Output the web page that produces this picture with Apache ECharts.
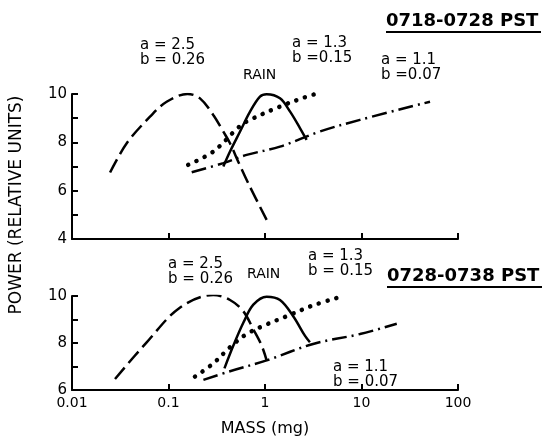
<!DOCTYPE html>
<html>
<head>
<meta charset="utf-8">
<script src="https://cdn.jsdelivr.net/npm/echarts@6/dist/echarts.min.js"></script>
<style>
  html, body { margin: 0; padding: 0; background: #fff; }
  #chart { width: 552px; height: 438px; }
</style>
</head>
<body>
<div id="chart"></div>
<script>
// mass (mg) vs power (relative units)
// top panel: 0718-0728 PST
const topDashMass = [0.0248, 0.0369, 0.0643, 0.0957, 0.157, 0.212, 0.291, 0.37, 0.434, 0.528, 0.67, 1.04];
const topDashPower = [6.75, 7.96, 9.06, 9.68, 10.0, 9.82, 9.13, 8.44, 7.96, 7.2, 6.31, 4.79];
const topRainMass = [0.37, 0.434, 0.55, 0.7, 0.887, 1.04, 1.43, 1.82, 2.31, 2.7];
const topRainPower = [7.0, 7.62, 8.44, 9.27, 9.89, 9.99, 9.82, 9.27, 8.58, 8.1];
const topDotMass = [0.16, 0.291, 0.525, 0.645, 1.43, 2.7, 3.56];
const topDotPower = [7.07, 7.62, 8.6, 8.86, 9.48, 9.89, 10.03];
const topDashDotMass = [0.174, 0.37, 0.645, 1.43, 3.72, 9.64, 51.3];
const topDashDotPower = [6.76, 7.14, 7.48, 7.82, 8.45, 8.93, 9.68];

// bottom panel: 0728-0738 PST
const botDashMass = [0.0279, 0.0594, 0.131, 0.291, 0.434, 0.596, 0.757, 0.924, 1.04];
const botDashPower = [6.47, 8.03, 9.5, 10.04, 9.83, 9.35, 8.58, 7.89, 7.26];
const botRainMass = [0.38, 0.47, 0.596, 0.757, 1.04, 1.43, 1.96, 2.6, 2.92];
const botRainPower = [6.92, 7.89, 8.86, 9.63, 9.97, 9.83, 9.14, 8.3, 8.03];
const botDotMass = [0.188, 0.291, 0.434, 0.645, 1.04, 1.68, 3.15, 6.49];
const botDotPower = [6.57, 7.13, 7.82, 8.38, 8.79, 9.14, 9.6, 10.0];
const botDashDotMass = [0.23, 0.434, 1.04, 3.15, 9.64, 23.2];
const botDashDotPower = [6.43, 6.8, 7.26, 7.96, 8.38, 8.82];

const xTickLabels = ["0.01", "0.1", "1", "10", "100"];

const zip = (xs, ys) => xs.map((x, i) => [x, ys[i]]);

const FONT = "DejaVu Sans";
const longDash = { color: "#000", width: 2.5, type: [15, 6] };
const rainLine = { color: "#000", width: 2.5, type: "solid" };
const dotLine = { color: "#000", width: 4.5, type: [0.1, 9], cap: "round" };
const dashDot = { color: "#000", width: 2.5, type: [15, 5, 2, 5] };

function line(name, xs, ys, idx, style) {
  return {
    name: name,
    type: "line",
    xAxisIndex: idx,
    yAxisIndex: idx,
    data: zip(xs, ys),
    smooth: 0.35,
    symbol: "none",
    lineStyle: style,
  };
}

function xAxis(idx, showLabel) {
  return {
    type: "log",
    logBase: 10,
    gridIndex: idx,
    min: 0.01,
    max: 100,
    axisLine: { lineStyle: { color: "#000", width: 2 } },
    axisTick: { inside: true, length: 6, lineStyle: { width: 2 } },
    minorTick: { show: false },
    splitLine: { show: false },
    axisLabel: {
      show: showLabel,
      color: "#000",
      fontFamily: FONT,
      fontSize: 14,
      margin: 6,
      formatter: (v) => xTickLabels[Math.round(Math.log10(v)) + 2],
    },
    name: showLabel ? "MASS (mg)" : "",
    nameLocation: "middle",
    nameGap: 31,
    nameTextStyle: { color: "#000", fontFamily: FONT, fontSize: 16 },
  };
}

function yAxis(idx, min) {
  return {
    type: "value",
    gridIndex: idx,
    min: min,
    max: 10,
    interval: 1,
    axisLine: { show: true, lineStyle: { color: "#000", width: 2 } },
    axisTick: { show: true, inside: true, length: 6, lineStyle: { width: 2 } },
    splitLine: { show: false },
    axisLabel: {
      color: "#000",
      fontFamily: FONT,
      fontSize: 15,
      margin: 5,
      formatter: (v) => (v % 2 === 0 ? String(v) : ""),
    },
  };
}

function label(text, x, y, size) {
  return {
    type: "text",
    x: x,
    y: y,
    style: { text: text, fill: "#000", font: (size || 15) + "px '" + FONT + "'", lineHeight: 15 },
  };
}

function title(text, x, y) {
  return [
    {
      type: "text",
      x: x,
      y: y,
      style: { text: text, fill: "#000", font: "bold 18px '" + FONT + "'" },
    },
    {
      type: "line",
      shape: { x1: x, y1: y + 20, x2: x + 155, y2: y + 20 },
      style: { stroke: "#000", lineWidth: 2 },
    },
  ];
}

let myChart = echarts.init(document.getElementById("chart"));
myChart.setOption({
  animation: false,
  backgroundColor: "#fff",
  grid: [
    { left: 72, width: 386, top: 94, height: 145 },
    { left: 72, width: 386, top: 296, height: 96 },
  ],
  xAxis: [xAxis(0, false), xAxis(1, true)],
  yAxis: [yAxis(0, 4), yAxis(1, 6)],
  series: [
    line("a=2.5 b=0.26", topDashMass, topDashPower, 0, longDash),
    line("RAIN", topRainMass, topRainPower, 0, rainLine),
    line("a=1.3 b=0.15", topDotMass, topDotPower, 0, dotLine),
    line("a=1.1 b=0.07", topDashDotMass, topDashDotPower, 0, dashDot),
    line("a=2.5 b=0.26", botDashMass, botDashPower, 1, longDash),
    line("RAIN", botRainMass, botRainPower, 1, rainLine),
    line("a=1.3 b=0.15", botDotMass, botDotPower, 1, dotLine),
    line("a=1.1 b=0.07", botDashDotMass, botDashDotPower, 1, dashDot),
  ],
  graphic: [
    {
      type: "text",
      x: 17,
      y: 205,
      rotation: Math.PI / 2,
      style: {
        text: "POWER (RELATIVE UNITS)",
        fill: "#000",
        font: "17px '" + FONT + "'",
        align: "center",
        verticalAlign: "middle",
      },
    },
    ...title("0718-0728 PST", 386, 12),
    ...title("0728-0738 PST", 387, 267),
    label("a = 2.5\nb = 0.26", 140, 38),
    label("RAIN", 243, 68, 14),
    label("a = 1.3\nb =0.15", 292, 36),
    label("a = 1.1\nb =0.07", 381, 53),
    label("a = 2.5\nb = 0.26", 168, 257),
    label("RAIN", 247, 267, 14),
    label("a = 1.3\nb = 0.15", 308, 249),
    label("a = 1.1\nb = 0.07", 333, 360),
  ],
});
</script>
</body>
</html>
